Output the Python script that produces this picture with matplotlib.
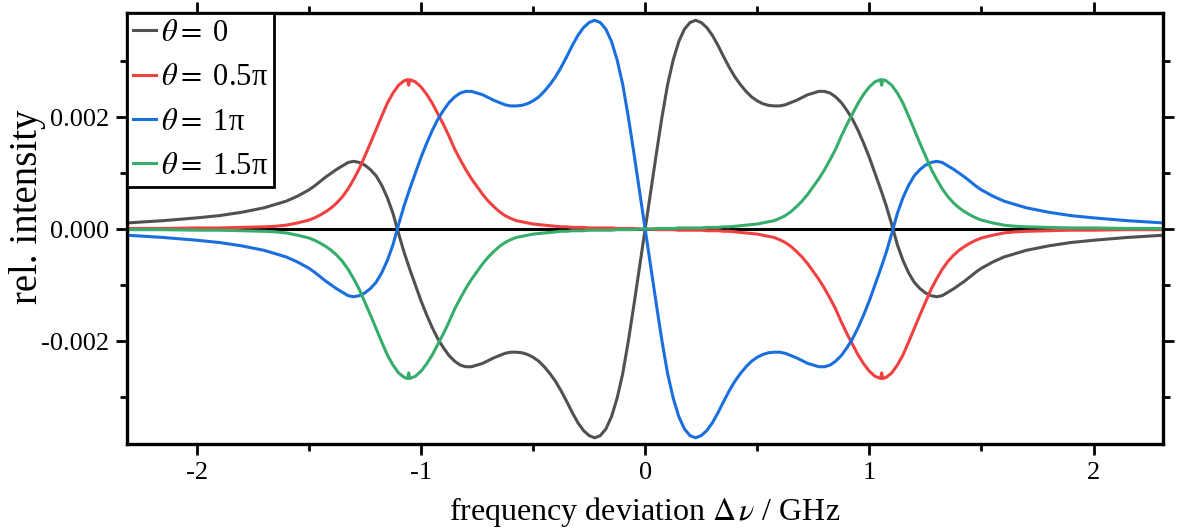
import matplotlib
matplotlib.use('Agg')
import numpy as np
import matplotlib.pyplot as plt
from matplotlib.ticker import MultipleLocator, FormatStrFormatter

plt.rcParams['font.family'] = ['Liberation Serif', 'DejaVu Serif']
plt.rcParams['mathtext.fontset'] = 'stix'
plt.rcParams['axes.unicode_minus'] = False

# frequency deviation in GHz
x_ghz = [
    -2.31, -2.15, -2.0, -1.9, -1.8, -1.7, -1.65, -1.6, -1.55, -1.5, -1.475,
    -1.45, -1.425, -1.4, -1.375, -1.35, -1.325, -1.3, -1.275, -1.25, -1.225, -1.2,
    -1.175, -1.15, -1.125, -1.1, -1.075, -1.06, -1.055, -1.05, -1.025, -1.0,
    -0.975, -0.95, -0.925, -0.9, -0.875, -0.85, -0.825, -0.8, -0.775, -0.75,
    -0.725, -0.7, -0.675, -0.65, -0.625, -0.6, -0.575, -0.55, -0.525, -0.5,
    -0.475, -0.45, -0.425, -0.4, -0.375, -0.35, -0.325, -0.3, -0.275, -0.25,
    -0.225, -0.2, -0.175, -0.15, -0.125, -0.1, -0.075, -0.05, -0.025,
    0.0,
    0.025, 0.05, 0.075, 0.1, 0.125, 0.15, 0.175, 0.2, 0.225, 0.25,
    0.275, 0.3, 0.325, 0.35, 0.375, 0.4, 0.425, 0.45, 0.475,
    0.5, 0.525, 0.55, 0.575, 0.6, 0.625, 0.65, 0.675, 0.7, 0.725,
    0.75, 0.775, 0.8, 0.825, 0.85, 0.875, 0.9, 0.925, 0.95, 0.975,
    1.0, 1.025, 1.05, 1.055, 1.06, 1.075, 1.1, 1.125, 1.15, 1.175,
    1.2, 1.225, 1.25, 1.275, 1.3, 1.325, 1.35, 1.375, 1.4, 1.425, 1.45,
    1.475, 1.5, 1.55, 1.6, 1.65, 1.7, 1.8, 1.9, 2.0, 2.15, 2.31,
]

# relative intensity, in units of 1e-5
theta_0 = [
    11, 15, 20, 24, 30, 38, 44, 50, 59, 70, 77,
    85, 93, 100, 107, 113, 119, 121, 119, 114, 106, 95,
    78, 56, 28, -8, -42, -60, -66, -72, -100, -128,
    -153, -176, -196, -212, -226, -236, -243, -246, -246, -243,
    -240, -235, -230, -226, -222, -220, -220, -221, -224, -229,
    -236, -246, -258, -272, -289, -308, -328, -346, -360, -369,
    -373, -369, -357, -335, -302, -258, -200, -135, -68,
    0,
    68, 135, 200, 258, 302, 335, 357, 369, 373, 369,
    360, 346, 328, 308, 289, 272, 258, 246, 236,
    229, 224, 221, 220, 220, 222, 226, 230, 235, 240,
    243, 246, 246, 243, 236, 226, 212, 196, 176, 153,
    128, 100, 72, 66, 60, 42, 8, -28, -56, -78,
    -95, -106, -114, -119, -121, -119, -113, -107, -100, -93, -85,
    -77, -70, -59, -50, -44, -38, -30, -24, -20, -15, -11,
]

theta_05 = [
    1, 1, 2, 2, 3, 4, 5, 7, 11, 16, 20,
    25, 31, 38, 47, 58, 72, 89, 108, 131, 154, 178,
    202, 225, 243, 257, 265, 267, 257, 267, 263, 254,
    241, 225, 206, 187, 166, 143, 124, 106, 90, 76,
    62, 50, 40, 31, 24, 19, 15, 13, 11, 9,
    8, 7, 6, 5, 4, 4, 3, 3, 3, 2,
    2, 2, 2, 2, 1, 1, 1, 1, 0,
    0,
    0, -1, -1, -1, -1, -2, -2, -2, -2, -2,
    -3, -3, -3, -4, -4, -5, -6, -7, -8,
    -9, -11, -13, -15, -19, -24, -31, -40, -50, -62,
    -76, -90, -106, -124, -143, -166, -187, -206, -225, -241,
    -254, -263, -267, -257, -267, -265, -257, -243, -225, -202,
    -178, -154, -131, -108, -89, -72, -58, -47, -38, -31, -25,
    -20, -16, -11, -7, -5, -4, -3, -2, -2, -1, -1,
]

theta_1 = [
    -11, -15, -20, -24, -30, -38, -44, -50, -59, -70, -77,
    -85, -93, -100, -107, -113, -119, -121, -119, -114, -106, -95,
    -78, -56, -28, 8, 42, 60, 66, 72, 100, 128,
    153, 176, 196, 212, 226, 236, 243, 246, 246, 243,
    240, 235, 230, 226, 222, 220, 220, 221, 224, 229,
    236, 246, 258, 272, 289, 308, 328, 346, 360, 369,
    373, 369, 357, 335, 302, 258, 200, 135, 68,
    0,
    -68, -135, -200, -258, -302, -335, -357, -369, -373, -369,
    -360, -346, -328, -308, -289, -272, -258, -246, -236,
    -229, -224, -221, -220, -220, -222, -226, -230, -235, -240,
    -243, -246, -246, -243, -236, -226, -212, -196, -176, -153,
    -128, -100, -72, -66, -60, -42, -8, 28, 56, 78,
    95, 106, 114, 119, 121, 119, 113, 107, 100, 93, 85,
    77, 70, 59, 50, 44, 38, 30, 24, 20, 15, 11,
]

theta_15 = [
    -1, -1, -2, -2, -3, -4, -5, -7, -11, -16, -20,
    -25, -31, -38, -47, -58, -72, -89, -108, -131, -154, -178,
    -202, -225, -243, -257, -265, -267, -257, -267, -263, -254,
    -241, -225, -206, -187, -166, -143, -124, -106, -90, -76,
    -62, -50, -40, -31, -24, -19, -15, -13, -11, -9,
    -8, -7, -6, -5, -4, -4, -3, -3, -3, -2,
    -2, -2, -2, -2, -1, -1, -1, -1, 0,
    0,
    0, 1, 1, 1, 1, 2, 2, 2, 2, 2,
    3, 3, 3, 4, 4, 5, 6, 7, 8,
    9, 11, 13, 15, 19, 24, 31, 40, 50, 62,
    76, 90, 106, 124, 143, 166, 187, 206, 225, 241,
    254, 263, 267, 257, 267, 265, 257, 243, 225, 202,
    178, 154, 131, 108, 89, 72, 58, 47, 38, 31, 25,
    20, 16, 11, 7, 5, 4, 3, 2, 2, 1, 1,
]

labels = [r'$\theta=$ 0', r'$\theta=$ 0.5π', r'$\theta=$ 1π', r'$\theta=$ 1.5π']
colors = ['#515151', '#F14040', '#1A6FDF', '#37AD6B']
unit = 1e-5

fig = plt.figure(figsize=(11.8, 5.29), dpi=100)
ax = fig.add_axes([0.1079, 0.1607, 0.8777, 0.8147])

ax.axhline(0, color='black', lw=2.2, zorder=1)
for vals, lab, col in zip([theta_0, theta_05, theta_1, theta_15], labels, colors):
    ax.plot(x_ghz, np.array(vals) * unit, color=col, lw=2.2, label=lab, zorder=2)

ax.set_xlim(-2.31, 2.31)
ax.set_ylim(-0.00384, 0.00386)
ax.xaxis.set_major_locator(MultipleLocator(1))
ax.xaxis.set_minor_locator(MultipleLocator(0.5))
ax.yaxis.set_major_locator(MultipleLocator(0.002))
ax.yaxis.set_minor_locator(MultipleLocator(0.001))
ax.yaxis.set_major_formatter(FormatStrFormatter('%.3f'))
ax.xaxis.set_major_formatter(FormatStrFormatter('%g'))

ax.tick_params(which='both', direction='out', top=True, right=True, width=2,
               labelsize=19)
ax.tick_params(which='major', length=8, pad=5)
ax.tick_params(which='minor', length=5)
for s in ax.spines.values():
    s.set_linewidth(2.4)

ax.set_xlabel(r'frequency deviation $\Delta\,\nu$ / GHz', fontsize=23, labelpad=8)
ax.set_ylabel('rel. intensity', fontsize=28)
ax.yaxis.set_label_coords(-0.079, 0.55)

leg = ax.legend(loc='upper left', bbox_to_anchor=(0, 1), borderaxespad=0,
                fancybox=False, edgecolor='black', framealpha=1, fontsize=22,
                handlelength=0.75, handletextpad=0.15, labelspacing=0.5,
                borderpad=0.2)
leg.get_frame().set_linewidth(2)

fig.savefig('out.png', dpi=100)
